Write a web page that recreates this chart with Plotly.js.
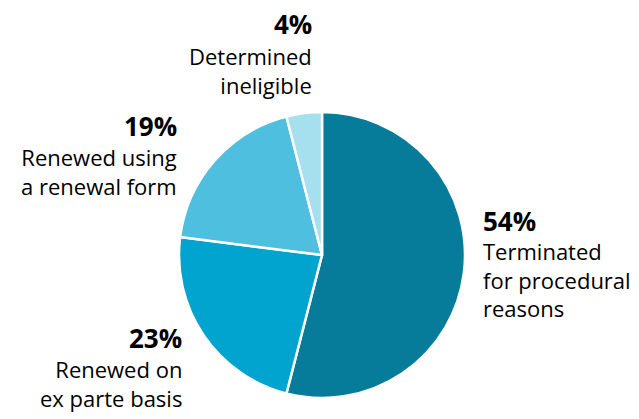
<!DOCTYPE html>
<html>
<head>
<meta charset="utf-8">
<script src="https://cdn.plot.ly/plotly-3.0.1.min.js"></script>
<style>html,body{margin:0;padding:0;background:#fff;}#chart{width:639px;height:419px;}</style>
</head>
<body>
<div id="chart"></div>
<script>
// Data
const categories = ['Terminated for procedural reasons', 'Renewed on ex parte basis', 'Renewed using a renewal form', 'Determined ineligible'];
const values = [54, 23, 19, 4];
const percentLabels = ['54%', '23%', '19%', '4%'];
const labelLines = [
  ['Terminated', 'for procedural', 'reasons'],
  ['Renewed on', 'ex parte basis'],
  ['Renewed using', 'a renewal form'],
  ['Determined', 'ineligible']
];
const colors = ['#077b9a', '#00a4cf', '#4ebfde', '#a6dfee'];

// Layout (pixel positions: anchor x, percent baseline, mean baseline of the description lines)
const W = 639, H = 419;
const labelPos = [
  {x: 482, pct: 230, mid: 287, anchor: 'left'},
  {x: 183, pct: 347, mid: 391, anchor: 'right'},
  {x: 178, pct: 135, mid: 179, anchor: 'right'},
  {x: 313, pct: 33, mid: 78, anchor: 'right'}
];
const FONT = '"Open Sans", sans-serif';
const pctSize = 26, txtSize = 22;

const annotations = [];
percentLabels.forEach((p, i) => {
  const pos = labelPos[i];
  annotations.push({
    xref: 'paper', yref: 'paper',
    x: pos.x / W,
    y: 1 - (pos.pct - 0.36 * pctSize) / H,
    xanchor: pos.anchor, yanchor: 'middle',
    text: '<b>' + p + '</b>',
    showarrow: false,
    font: {family: FONT, size: pctSize, color: '#000000'},
    borderpad: 0
  });
  annotations.push({
    xref: 'paper', yref: 'paper',
    x: pos.x / W,
    y: 1 - (pos.mid - 0.36 * txtSize) / H,
    xanchor: pos.anchor, yanchor: 'middle',
    align: pos.anchor,
    text: labelLines[i].join('<br>'),
    showarrow: false,
    font: {family: FONT, size: txtSize, color: '#000000'},
    borderpad: 0
  });
});

const cx = 322, cy = 255, r = 143;
const trace = {
  type: 'pie',
  labels: categories,
  values: values,
  sort: false,
  direction: 'clockwise',
  rotation: 0,
  textinfo: 'none',
  hoverinfo: 'none',
  marker: {colors: colors, line: {color: '#ffffff', width: 2.5}},
  domain: {
    x: [(cx - r) / W, (cx + r) / W],
    y: [(H - cy - r) / H, (H - cy + r) / H]
  },
  showlegend: false
};

const layout = {
  width: W, height: H,
  margin: {l: 0, r: 0, t: 0, b: 0},
  paper_bgcolor: '#ffffff',
  showlegend: false,
  annotations: annotations
};

Plotly.newPlot('chart', [trace], layout, {displayModeBar: false, staticPlot: true});
</script>
</body>
</html>
